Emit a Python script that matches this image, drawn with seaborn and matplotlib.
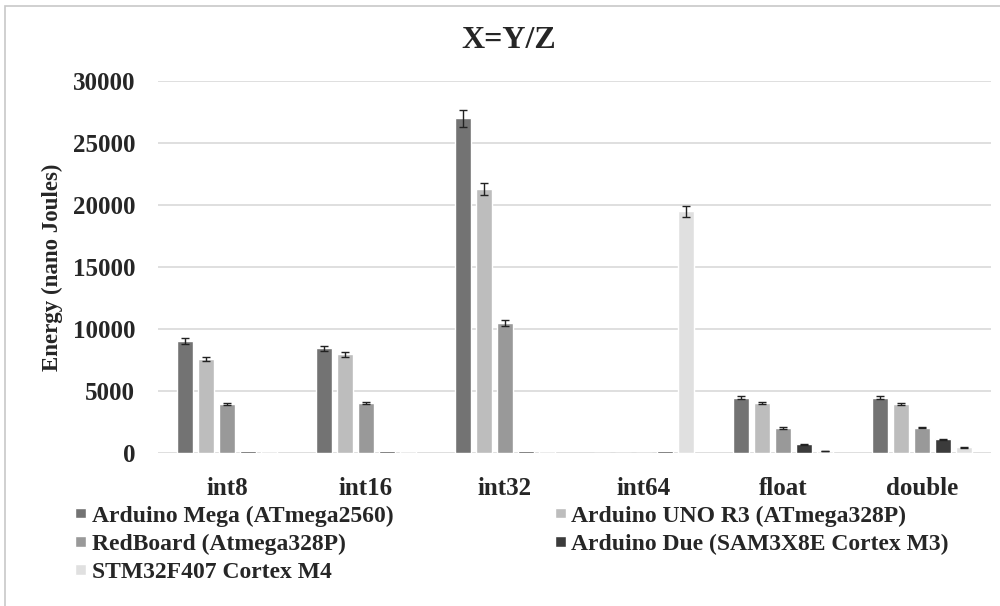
import numpy as np
import pandas as pd
import matplotlib
matplotlib.use('Agg')
import matplotlib.pyplot as plt
import seaborn as sns

categories = ['int8', 'int16', 'int32', 'int64', 'float', 'double']
boards = ['Arduino Mega (ATmega2560)', 'Arduino UNO R3 (ATmega328P)',
          'RedBoard (Atmega328P)', 'Arduino Due (SAM3X8E Cortex M3)',
          'STM32F407 Cortex M4']

mega = [9000, 8450, 27000, 0, 4450, 4450]
uno = [7600, 7950, 21300, 0, 4050, 3950]
redboard = [3950, 4050, 10500, 0, 2000, 2050]
due = [150, 150, 150, 150, 700, 1100]
stm = [150, 150, 150, 19500, 150, 450]

mega_err = [250, 200, 700, 0, 120, 120]
uno_err = [150, 180, 500, 0, 100, 100]
redboard_err = [100, 100, 250, 0, 60, 60]
due_err = [0, 0, 0, 0, 40, 40]
stm_err = [0, 0, 0, 450, 20, 30]

colors = ['#737373', '#bdbdbd', '#999999', '#3b3b3b', '#e0e0e0']

values = [mega, uno, redboard, due, stm]
errors = [mega_err, uno_err, redboard_err, due_err, stm_err]
rows = []
for b, vals, errs in zip(boards, values, errors):
    for c, v, e in zip(categories, vals, errs):
        rows.append({'type': c, 'board': b, 'energy': v, 'err': e})
df = pd.DataFrame(rows)

sns.set_style('whitegrid')
plt.rcParams['font.family'] = ['Liberation Serif', 'DejaVu Serif']
plt.rcParams['font.weight'] = 'bold'

fig = plt.figure(figsize=(10, 6.06), dpi=100)
ax = fig.add_axes([0.1575, 0.2525, 0.834, 0.6138])
sns.barplot(data=df, x='type', y='energy', hue='board', hue_order=boards,
            palette=colors, errorbar=None, width=0.75, gap=0.22,
            saturation=1, ax=ax)

# error bars on top of each bar
for cont, b in zip(ax.containers, boards):
    sub = df[df['board'] == b]
    xs = [p.get_x() + p.get_width() / 2 for p in cont.patches]
    errs = sub['err'].values
    ax.errorbar(xs, sub['energy'].values, yerr=np.where(errs > 0, errs, np.nan),
                fmt='none', ecolor='#222222', elinewidth=1, capsize=3, capthick=1)

ax.set_ylim(0, 30000)
ax.set_yticks(range(0, 30001, 5000))
ax.set_xlim(-0.5, 5.5)
ax.grid(axis='y', color='#d9d9d9', linewidth=1.2)
ax.grid(axis='x', visible=False)
for s in ax.spines.values():
    s.set_visible(False)
ax.tick_params(axis='both', labelsize=18, length=0)
ax.tick_params(axis='y', pad=16)
ax.tick_params(axis='x', pad=17)
for lbl in ax.get_xticklabels() + ax.get_yticklabels():
    lbl.set_fontweight('bold')
ax.set_xlabel('')
ax.set_ylabel('Energy (nano Joules)', fontsize=16.5, fontweight='bold', labelpad=7)
fig.text(0.509, 0.933, 'X=Y/Z', fontsize=23, fontweight='bold', ha='center', va='center')

handles, labels = ax.get_legend_handles_labels()
ax.legend_.remove()
order = [0, 2, 4, 1, 3]
fig.legend([handles[i] for i in order], [labels[i] for i in order],
           loc='upper left', bbox_to_anchor=(0.075, 0.166),
           ncol=2, frameon=False, prop={'size': 17, 'weight': 'bold'},
           handlelength=0.45, handleheight=0.3, handletextpad=0.25,
           columnspacing=6.85, labelspacing=0.3, borderaxespad=0, borderpad=0)

fig.patches.append(plt.Rectangle((0.005, -0.01), 1.0, 1.0, transform=fig.transFigure,
                                 fill=False, edgecolor='#c8c8c8', linewidth=1.2))

fig.savefig('out.png', dpi=100, facecolor='white')
